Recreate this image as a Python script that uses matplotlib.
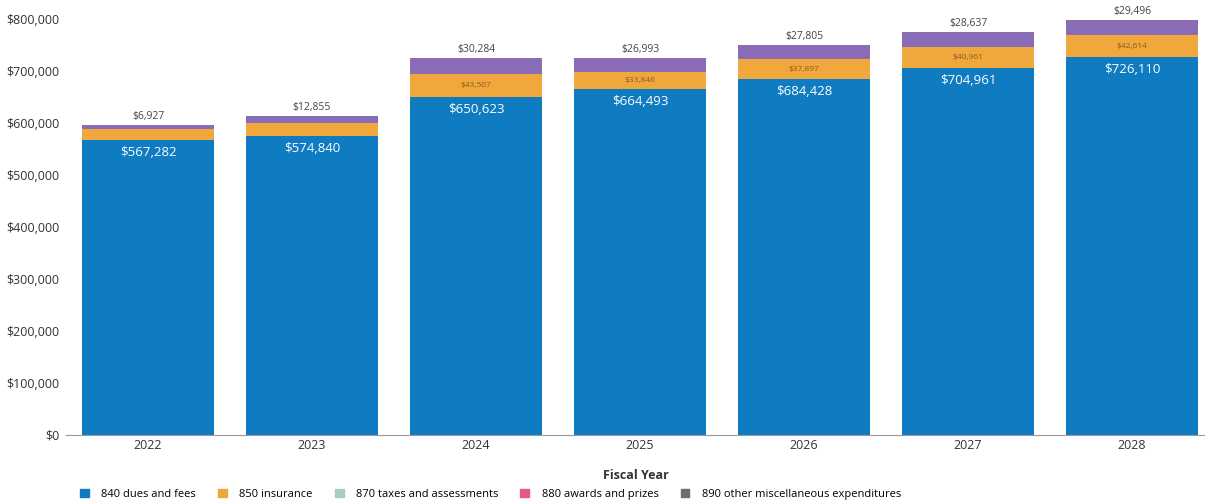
import matplotlib.pyplot as plt
from matplotlib.patches import Patch

plt.rcParams['font.family'] = ['Open Sans', 'DejaVu Sans']

years = ['2022', '2023', '2024', '2025', '2026', '2027', '2028']
dues = [567282, 574840, 650623, 664493, 684428, 704961, 726110]
insurance = [21400, 25800, 43507, 33846, 37897, 40961, 42614]
taxes = [0, 0, 0, 0, 0, 0, 0]
awards = [0, 0, 0, 0, 0, 0, 0]
other = [6927, 12855, 30284, 26993, 27805, 28637, 29496]

blue = '#0f7bc1'
orange = '#f0a73c'
teal = '#a9cfc5'
pink = '#df5a8b'
purple = '#8b6cb6'

fig = plt.figure(figsize=(12.05, 5.01), dpi=100)
ax = fig.add_axes([66 / 1205, 66 / 501, 1139 / 1205, 416 / 501])

x = list(range(len(years)))
w = 0.8
bottom = [0] * len(years)
for vals, col in [(dues, blue), (insurance, orange), (taxes, teal), (awards, pink), (other, purple)]:
    ax.bar(x, vals, w, bottom=bottom, color=col, linewidth=0, clip_on=False)
    bottom = [b + v for b, v in zip(bottom, vals)]

for i in x:
    # blue label inside the top of the dues segment
    ax.annotate('${:,}'.format(dues[i]), (i, dues[i]), xytext=(0, -9), textcoords='offset points',
                ha='center', va='center', color='white', fontsize=9.5)
    if insurance[i] > 30000:
        ax.text(i, dues[i] + insurance[i] / 2, '${:,}'.format(insurance[i]), ha='center', va='center',
                color='#8a5b22', fontsize=6)
    ax.annotate('${:,}'.format(other[i]), (i, bottom[i]), xytext=(0, 6), textcoords='offset points',
                ha='center', va='center', color='#444444', fontsize=7.5)

ax.set_xlim(-0.5, 6.445)
ax.set_ylim(0, 800000)
ax.set_xticks(x)
ax.set_xticklabels(years)
ax.set_yticks(range(0, 800001, 100000))
ax.set_yticklabels(['$' + format(v, ',') for v in range(0, 800001, 100000)])
ax.tick_params(axis='both', labelsize=9, colors='#333333', length=0, pad=5)
ax.tick_params(axis='x', pad=3)
for s in ['top', 'right', 'left']:
    ax.spines[s].set_visible(False)
ax.spines['bottom'].set_color('#999999')
ax.set_xlabel('Fiscal Year', fontsize=9, fontweight='bold', color='#333333', labelpad=12)

handles = [Patch(color=blue), Patch(color=orange), Patch(color=teal), Patch(color=pink), Patch(color='#6e6e6e')]
names = ['840 dues and fees', '850 insurance', '870 taxes and assessments', '880 awards and prizes',
         '890 other miscellaneous expenditures']
fig.legend(handles, names, loc='lower left', bbox_to_anchor=(0.058, -0.018), ncol=5, frameon=False,
           fontsize=8, handlelength=0.8, handleheight=0.8, columnspacing=2.0, handletextpad=1.1)

plt.savefig('out.png', dpi=100)
